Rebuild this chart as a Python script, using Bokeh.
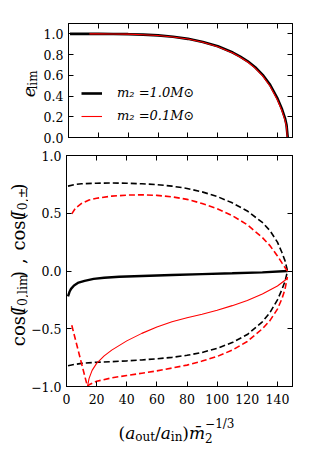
import math
from bokeh.plotting import figure
from bokeh.models import (Range1d, LinearAxis, FixedTicker, CustomJSTickFormatter,
                          Label, Legend, LegendItem)
from bokeh.layouts import column, row
from bokeh.embed import file_html
from bokeh.resources import INLINE

# ---------------- data ----------------
x_ticks = [0, 20, 40, 60, 80, 100, 120, 140]
e_ticks = [0.0, 0.2, 0.4, 0.6, 0.8, 1.0]
cos_ticks = [-1.0, -0.5, 0.0, 0.5, 1.0]

legend_labels = ["m\u2082 =1.0M\u2299", "m\u2082 =0.1M\u2299"]

# top panel: e_lim
x_elim_m10 = [1, 10, 20, 30, 40, 50, 60, 70, 80, 90, 100, 110, 115, 120, 125, 130, 135, 140, 143, 145, 146, 146.8]
elim_m10 = [1.000, 1.000, 1.000, 0.999, 0.997, 0.993, 0.985, 0.972, 0.952, 0.922, 0.880, 0.820, 0.780,
            0.735, 0.678, 0.605, 0.508, 0.375, 0.272, 0.185, 0.120, 0.0]
x_elim_m01 = [14, 20, 30, 40, 50, 60, 70, 80, 90, 100, 110, 115, 120, 125, 130, 135, 140, 143, 145, 146, 146.5]
elim_m01 = [1.000, 1.000, 0.999, 0.997, 0.992, 0.984, 0.970, 0.950, 0.919, 0.876, 0.815, 0.775,
            0.728, 0.670, 0.595, 0.495, 0.360, 0.255, 0.165, 0.100, 0.0]

# bottom panel
x_lim_m10 = [1, 2, 3, 5, 8, 12, 18, 25, 35, 50, 70, 90, 110, 130, 146.7]
coslim_m10 = [-0.22, -0.18, -0.155, -0.125, -0.10, -0.085, -0.068, -0.058, -0.05, -0.043,
              -0.035, -0.027, -0.02, -0.012, 0.0]
x_lim_m01 = [13.9, 15, 17, 20, 25, 30, 40, 50, 60, 70, 80, 90, 100, 110, 120, 130, 140, 146.6]
coslim_m01 = [-1.0, -0.93, -0.86, -0.80, -0.735, -0.685, -0.605, -0.54, -0.485, -0.44, -0.405,
              -0.375, -0.34, -0.30, -0.255, -0.20, -0.13, -0.065]

x_pm_m10 = [1, 5, 10, 20, 30, 40, 50, 60, 70, 80, 90, 100, 110, 120, 130, 135, 140, 143, 145, 146.7]
cosplus_m10 = [0.735, 0.748, 0.755, 0.76, 0.762, 0.76, 0.755, 0.748, 0.735, 0.715, 0.685, 0.645,
               0.59, 0.52, 0.42, 0.35, 0.25, 0.16, 0.09, 0.0]
cosminus_m10 = [-0.82, -0.81, -0.80, -0.79, -0.785, -0.778, -0.77, -0.76, -0.748, -0.73, -0.705,
                -0.67, -0.62, -0.55, -0.44, -0.36, -0.25, -0.16, -0.09, 0.0]

x_plus_m01 = [3.5, 6, 10, 15, 20, 30, 40, 50, 60, 70, 80, 90, 100, 110, 120, 130, 135, 140, 143, 146.6]
cosplus_m01 = [0.495, 0.545, 0.585, 0.615, 0.63, 0.648, 0.657, 0.66, 0.655, 0.642, 0.62, 0.585,
               0.54, 0.48, 0.40, 0.29, 0.22, 0.13, 0.07, 0.0]
x_minus_m01 = [3.5, 13.9, 15, 20, 30, 40, 50, 60, 70, 80, 90, 100, 110, 120, 130, 135, 140, 143, 145, 146.6]
cosminus_m01 = [-0.47, -1.0, -0.985, -0.955, -0.925, -0.905, -0.885, -0.865, -0.84, -0.815, -0.78,
                -0.74, -0.685, -0.61, -0.50, -0.43, -0.33, -0.24, -0.16, -0.05]

# ---------------- geometry / style ----------------
FONT = "'DejaVu Serif', 'Liberation Serif', serif"
TICK_SIZE = "12.5px"
BLACK = "#000000"
RED = "#ff0000"

FW = 226          # frame width (page x 66 .. 292)
MR = 8
X0, X1 = 0, 150

# top row: label strip + panel 1 (frame y 23..137)
L1_W = 40
P1_ML = 66 - L1_W
P1_T, P1_H, P1_B = 23, 114, 9
ROW1_H = P1_T + P1_H + P1_B                 # page y 0..146

# middle row: label strip + panel 2 (frame y 155..386)
L2_W = 28
P2_ML = 66 - L2_W
P2_T, P2_H, P2_B = 9, 231, 22
ROW2_H = P2_T + P2_H + P2_B                 # page y 146..408
ROW2_Y0 = ROW1_H

# bottom row: x label strip
ROW3_Y0 = ROW2_Y0 + ROW2_H
ROW3_H = 40
TOTAL_W = 66 + FW + MR

EM = {'(': 0.390, ')': 0.390, ',': 0.318, ' ': 0.318, '/': 0.337, 'c': 0.560, 'o': 0.602,
      's': 0.513, 'l': 0.320, 'i': 0.320, 'm': 0.948, 'n': 0.640, 'u': 0.640, 't': 0.402,
      'a': 0.596, 'e': 0.592, 'I': 0.472, '\u00b1': 0.838, '\u2212': 0.838, '\u0304': 0.0}
for d in "0123456789":
    EM[d] = 0.636


def tw(s, size):
    return sum(EM.get(ch, 0.6) for ch in s) * size


fmt_e = CustomJSTickFormatter(code="""
    const v = Math.abs(tick) < 1e-9 ? 0 : tick;
    return v.toFixed(1).replace('-', '\u2212');
""")
fmt_x = CustomJSTickFormatter(code="return tick.toFixed(0);")


def style_axis(ax, ticks, fmt, show_labels, standoff=5):
    ax.ticker = FixedTicker(ticks=ticks)
    ax.formatter = fmt
    ax.major_tick_in = 5
    ax.major_tick_out = 0
    ax.minor_tick_in = 0
    ax.minor_tick_out = 0
    ax.axis_line_color = BLACK
    ax.axis_line_width = 1
    ax.major_tick_line_color = BLACK
    ax.major_tick_line_width = 1
    ax.major_label_text_font = FONT
    if show_labels:
        ax.major_label_text_color = BLACK
        ax.major_label_text_font_size = TICK_SIZE
        ax.major_label_standoff = standoff
    else:
        ax.major_label_text_color = None
        ax.major_label_text_font_size = "0px"
        ax.major_label_standoff = 0


def make_panel(ml, h, bt, bb, yr):
    p = figure(width=ml + FW + MR, height=h, x_range=Range1d(X0, X1), y_range=yr,
               output_backend="svg", toolbar_location=None,
               min_border_left=ml, min_border_right=MR, min_border_top=bt, min_border_bottom=bb)
    p.grid.visible = False
    p.outline_line_color = BLACK
    p.outline_line_width = 1
    p.background_fill_color = "white"
    p.border_fill_color = "white"
    return p


def make_strip(w, h, x0, y0):
    # a blank strip whose data units are page pixels (y grows downward)
    s = figure(width=w, height=h, x_range=Range1d(x0, x0 + w), y_range=Range1d(y0 + h, y0),
               output_backend="svg", toolbar_location=None, min_border=0,
               x_axis_location=None, y_axis_location=None)
    s.grid.visible = False
    s.outline_line_color = None
    s.background_fill_color = "white"
    s.border_fill_color = "white"
    return s


def add_hlabel(s, pieces, x0, base_py):
    x = x0
    for txt, size, style, dy, adv in pieces:
        s.add_layout(Label(x=x, y=base_py + dy, text=txt, text_font=FONT,
                           text_font_size=f"{size}px", text_font_style=style,
                           text_align="left", text_baseline="alphabetic", text_color=BLACK))
        if adv:
            x += tw(txt, size)


def add_vlabel(s, pieces, center_py, base_px):
    advs = [(a if isinstance(a, float) else tw(t, sz)) for t, sz, st, dx, a in pieces]
    y = center_py + sum(advs) / 2
    for (txt, size, style, dx, _), a in zip(pieces, advs):
        if txt == ",":
            s.add_layout(Label(x=base_px + dx, y=y - a / 2, text=txt, angle=math.pi / 2,
                               text_font=FONT, text_font_size=f"{size}px", text_font_style=style,
                               text_align="center", text_baseline="alphabetic", text_color=BLACK))
        else:
            s.add_layout(Label(x=base_px + dx, y=y, text=txt, angle=math.pi / 2,
                               text_font=FONT, text_font_size=f"{size}px", text_font_style=style,
                               text_align="left", text_baseline="alphabetic", text_color=BLACK))
        y -= a


# ---------------- top panel ----------------
p1 = make_panel(P1_ML, ROW1_H, P1_T, P1_B, Range1d(0.0, 1.1))
style_axis(p1.xaxis[0], x_ticks, fmt_x, False)
style_axis(p1.yaxis[0], e_ticks, fmt_e, True, 5)
ax_top1 = LinearAxis()
style_axis(ax_top1, x_ticks, fmt_x, False)
p1.add_layout(ax_top1, "above")
ax_r1 = LinearAxis()
style_axis(ax_r1, e_ticks, fmt_e, False)
p1.add_layout(ax_r1, "right")

r_e10 = p1.line(x_elim_m10, elim_m10, line_color=BLACK, line_width=2.6)
r_e01 = p1.line(x_elim_m01, elim_m01, line_color=RED, line_width=1.1)

leg = Legend(items=[LegendItem(label=legend_labels[0], renderers=[r_e10]),
                    LegendItem(label=legend_labels[1], renderers=[r_e01])],
             location=(13, 14), orientation="vertical", glyph_width=21, glyph_height=12,
             label_height=12, label_standoff=15, spacing=8, padding=0, margin=0,
             border_line_alpha=0, background_fill_alpha=0,
             label_text_font=FONT, label_text_font_style="italic", label_text_font_size="13px",
             label_text_color=BLACK)
p1.add_layout(leg)

s1 = make_strip(L1_W, ROW1_H, 0, 0)
add_vlabel(s1, [("e", 17, "italic", 0, True), ("lim", 12, "normal", 4.5, True)],
           P1_T + P1_H / 2, 28)

# ---------------- bottom panel ----------------
p2 = make_panel(P2_ML, ROW2_H, P2_T, P2_B, Range1d(-1.0, 1.0))
style_axis(p2.xaxis[0], x_ticks, fmt_x, True, 7)
style_axis(p2.yaxis[0], cos_ticks, fmt_e, True, 5)
ax_top2 = LinearAxis()
style_axis(ax_top2, x_ticks, fmt_x, False)
p2.add_layout(ax_top2, "above")
ax_r2 = LinearAxis()
style_axis(ax_r2, cos_ticks, fmt_e, False)
p2.add_layout(ax_r2, "right")

DASH = "6 3"
p2.line(x_pm_m10, cosplus_m10, line_color=BLACK, line_width=1.6, line_dash=DASH)
p2.line(x_pm_m10, cosminus_m10, line_color=BLACK, line_width=1.6, line_dash=DASH)
p2.line(x_lim_m10, coslim_m10, line_color=BLACK, line_width=2.4)
p2.line(x_plus_m01, cosplus_m01, line_color=RED, line_width=1.6, line_dash=DASH)
p2.line(x_minus_m01, cosminus_m01, line_color=RED, line_width=1.6, line_dash=DASH)
p2.line(x_lim_m01, coslim_m01, line_color=RED, line_width=1.1)

s2 = make_strip(L2_W, ROW2_H, 0, ROW2_Y0)
add_vlabel(s2, [("cos(", 18, "normal", 0, True),
                ("I", 18, "italic", 0, True),
                ("0,lim", 12.5, "normal", 4, True),
                (")", 18, "normal", 0, True),
                (",", 18, "normal", 0, 24.0),
                ("cos(", 18, "normal", 0, True),
                ("I", 18, "italic", 0, True),
                ("0,\u00b1", 12.5, "normal", 4, True),
                (")", 18, "normal", 0, True)],
           ROW2_Y0 + P2_T + P2_H / 2, 17.5)

s3 = make_strip(TOTAL_W, ROW3_H, 0, ROW3_Y0)
add_hlabel(s3, [("(", 17, "normal", 0, True),
                ("a", 17, "italic", 0, True),
                ("out", 12, "normal", 4, True),
                ("/", 17, "normal", 0, True),
                ("a", 17, "italic", 0, True),
                ("in", 12, "normal", 4, True),
                (")", 17, "normal", 0, True),
                ("m\u0304", 17, "italic", 0, True),
                ("2", 12, "normal", 5, False),
                ("\u22121/3", 12, "normal", -9, True)],
           118, 432)

layout = column(row(s1, p1), row(s2, p2), s3)
open("out.html", "w").write(file_html(layout, INLINE))
